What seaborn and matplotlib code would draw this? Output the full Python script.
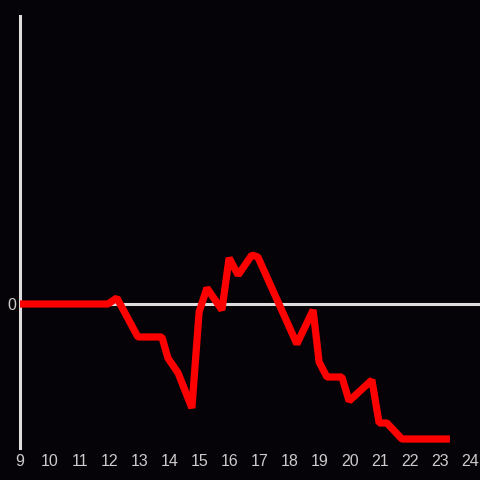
import numpy as np
import pandas as pd
import matplotlib
matplotlib.use('Agg')
import matplotlib.pyplot as plt
import seaborn as sns

# Datos (hora del día vs valor relativo)
hours = [9.0, 11.93, 12.23, 12.93, 13.73, 13.93, 14.27, 14.73, 14.97, 15.23,
         15.73, 15.97, 16.27, 16.73, 16.93, 18.23, 18.77, 18.97, 19.23, 19.73,
         19.97, 20.73, 20.97, 21.23, 21.73, 23.33]
values = [0, 0, 6, -33, -33, -54, -69, -104, -8, 16,
          -6, 46, 29, 49, 47, -40, -6, -58, -73, -73,
          -97, -76, -119, -119, -135, -135]
xticks = list(range(9, 25))

df = pd.DataFrame({'hora': hours, 'valor': values})

bg = '#050307'
axis_col = '#dddddd'

sns.set_theme(style='dark')
plt.rcParams['font.family'] = ['Liberation Sans', 'DejaVu Sans']
fig = plt.figure(figsize=(4.8, 4.8), dpi=100, facecolor=bg)
ax = fig.add_axes([20/480, 32/480, 460/480, 432/480])
ax.set_facecolor(bg)

ax.axhline(0, color=axis_col, lw=2.2, zorder=1)
sns.lineplot(data=df, x='hora', y='valor', color='#ff0000', lw=5.2,
             ax=ax, zorder=3, solid_joinstyle='bevel', solid_capstyle='butt')

ax.set_xlim(9, 24 + 10/30)
ax.set_ylim(-144, 288)
ax.set_xticks(xticks)
ax.set_xticklabels([str(t) for t in xticks])
ax.set_yticks([0])
ax.set_yticklabels(['0'])
ax.tick_params(axis='both', length=0, colors='#cccccc', labelsize=11.5)
ax.tick_params(axis='x', pad=4)
ax.tick_params(axis='y', pad=3)
ax.set_xlabel('')
ax.set_ylabel('')
ax.grid(False)

for s in ['top', 'right', 'bottom']:
    ax.spines[s].set_visible(False)
ax.spines['left'].set_color(axis_col)
ax.spines['left'].set_linewidth(2.2)

fig.savefig('out.png', dpi=100, facecolor=bg)
